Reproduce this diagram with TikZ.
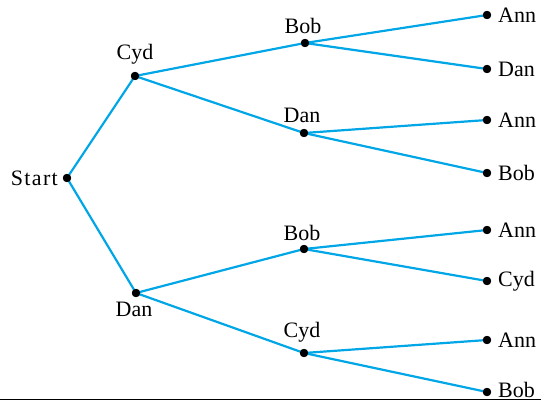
\documentclass[tikz,border=0pt]{standalone}
\usepackage{fontspec}
\setmainfont{Liberation Serif}
\begin{document}
\begin{tikzpicture}[x=1pt,y=-1pt,
  branch/.style={draw={rgb,255:red,0;green,166;blue,230}, line width=2.2pt},
  vertex/.style={circle, fill=black, inner sep=0pt, minimum size=8pt},
  lbl/.style={font=\fontsize{22}{24}\selectfont, inner sep=0pt}]
\useasboundingbox (0,0) rectangle (541,401);
% tree vertices
\node[vertex] (s)  at (67,178) {};
\node[vertex] (c)  at (135,76) {};
\node[vertex] (d)  at (136,293) {};
\node[vertex] (cb) at (305,43) {};
\node[vertex] (cd) at (304,133) {};
\node[vertex] (db) at (304,249) {};
\node[vertex] (dc) at (304,353) {};
\node[vertex] (l1) at (487,15) {};
\node[vertex] (l2) at (487,69) {};
\node[vertex] (l3) at (487,120) {};
\node[vertex] (l4) at (487,173) {};
\node[vertex] (l5) at (487,230) {};
\node[vertex] (l6) at (487,281) {};
\node[vertex] (l7) at (487,340) {};
\node[vertex] (l8) at (487,392) {};
% branches
\draw[branch] (s.center) -- (c.center);
\draw[branch] (s.center) -- (d.center);
\draw[branch] (c.center) -- (cb.center);
\draw[branch] (c.center) -- (cd.center);
\draw[branch] (d.center) -- (db.center);
\draw[branch] (d.center) -- (dc.center);
\draw[branch] (cb.center) -- (l1.center);
\draw[branch] (cb.center) -- (l2.center);
\draw[branch] (cd.center) -- (l3.center);
\draw[branch] (cd.center) -- (l4.center);
\draw[branch] (db.center) -- (l5.center);
\draw[branch] (db.center) -- (l6.center);
\draw[branch] (dc.center) -- (l7.center);
\draw[branch] (dc.center) -- (l8.center);
% dots on top of the lines
\foreach \v in {s,c,d,cb,cd,db,dc,l1,l2,l3,l4,l5,l6,l7,l8}
  \fill (\v) circle (4.2pt);
% labels
\node[lbl, anchor=east] (ts) at ([xshift=-9pt]s.center) {\addfontfeatures{LetterSpace=6}Start};
\node[lbl, anchor=south] (tc) at ([yshift=12pt]c.center) {Cyd};
\node[lbl, anchor=north] (td) at ([xshift=-2pt,yshift=-9pt]d.center) {Dan};
\node[lbl, anchor=south] (tcb) at ([xshift=-2pt,yshift=9pt]cb.center) {Bob};
\node[lbl, anchor=south] (tcd) at ([xshift=-2pt,yshift=10pt]cd.center) {Dan};
\node[lbl, anchor=south] (tdb) at ([xshift=-2pt,yshift=8pt]db.center) {Bob};
\node[lbl, anchor=south] (tdc) at ([xshift=-2pt,yshift=11pt]dc.center) {Cyd};
\node[lbl, anchor=west] (t1) at ([xshift=11pt]l1.center) {Ann};
\node[lbl, anchor=west] (t2) at ([xshift=11pt]l2.center) {Dan};
\node[lbl, anchor=west] (t3) at ([xshift=11pt]l3.center) {Ann};
\node[lbl, anchor=west] (t4) at ([xshift=11pt]l4.center) {Bob};
\node[lbl, anchor=west] (t5) at ([xshift=11pt]l5.center) {Ann};
\node[lbl, anchor=west] (t6) at ([xshift=11pt]l6.center) {Cyd};
\node[lbl, anchor=west] (t7) at ([xshift=11pt]l7.center) {Ann};
\node[lbl, anchor=west] (t8) at ([xshift=11pt,yshift=2pt]l8.center) {Bob};
% rule along the bottom edge
\coordinate (ra) at (0,399.5);
\coordinate (rb) at (541,399.5);
\draw[line width=1.2pt] (ra) -- (rb);
\end{tikzpicture}
\end{document}
